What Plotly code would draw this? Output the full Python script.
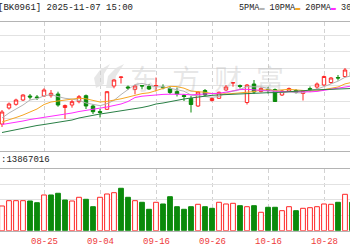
import plotly.graph_objects as go

# ---------------- data ----------------
lead_dates = ["08-13", "08-14"]
dates = ["08-15", "08-18", "08-19", "08-20", "08-21", "08-22", "08-25", "08-26", "08-27", "08-28", "08-29",
         "09-01", "09-02", "09-03", "09-04", "09-05", "09-08", "09-09", "09-10", "09-11", "09-12",
         "09-15", "09-16", "09-17", "09-18", "09-19", "09-22", "09-23", "09-24", "09-25", "09-26",
         "09-29", "09-30", "10-09", "10-10", "10-13", "10-14", "10-15", "10-16", "10-17",
         "10-20", "10-21", "10-22", "10-23", "10-24", "10-27", "10-28", "10-29", "10-30", "10-31", "11-03"]
tick_labels = ["08-13", "08-25", "09-04", "09-16", "09-26", "10-16", "10-28"]

opens = [1126, 1142, 1145.7, 1150, 1154, 1153, 1154, 1154.3, 1156, 1142.5, 1145, 1148.3, 1154.3, 1144, 1138.5,
         1140.7, 1164, 1172.5, 1163, 1160.7, 1164.5, 1163.5, 1164, 1163, 1161.5, 1158.5, 1154.5, 1151.5, 1144,
         1159.5, 1149.5, 1151.7, 1160, 1167, 1164.5, 1147.5, 1166, 1158.5, 1160.5, 1160.5, 1155, 1159, 1159.5,
         1156.5, 1161.5, 1163, 1165, 1167.5, 1172.5, 1173.5, 1178]
highs = [1140, 1147.5, 1151.3, 1155.7, 1156, 1155, 1161.7, 1160, 1158.3, 1145.5, 1150, 1155, 1155.5, 1146, 1141,
         1159, 1170.7, 1173.5, 1164.5, 1165, 1165, 1166, 1172.5, 1165.7, 1163.5, 1162.5, 1156, 1154, 1159, 1161,
         1153, 1158.5, 1165, 1167.5, 1165.5, 1166, 1170, 1163, 1163, 1161.5, 1160, 1162.5, 1161, 1160, 1163.5,
         1167.5, 1174.5, 1173, 1175, 1182, 1180]
lows = [1123, 1140.5, 1144.3, 1149, 1150.5, 1150, 1153, 1152.3, 1143.3, 1131, 1142.3, 1146.7, 1141, 1136, 1132.5,
        1140, 1161.7, 1166.5, 1160, 1155.7, 1160.7, 1160, 1158.5, 1160.7, 1156, 1153.5, 1149, 1137.5, 1143, 1153.5,
        1148.5, 1151, 1159, 1163.3, 1161.5, 1145.5, 1156, 1157.5, 1156.5, 1148.3, 1154, 1158.5, 1156.5, 1149.5,
        1158.5, 1161, 1164, 1166, 1169.5, 1172.5, 1172]
closes = [1138, 1146, 1150, 1155, 1153, 1152.3, 1160, 1156.7, 1145, 1144.5, 1148.3, 1153.3, 1144, 1138.3, 1137.5,
          1158.3, 1170, 1173, 1162, 1164, 1164, 1161, 1164.5, 1162.3, 1157.5, 1156, 1153.5, 1145.5, 1158, 1155,
          1151.5, 1157.7, 1163, 1167.3, 1163.5, 1165, 1158, 1161.5, 1159.5, 1148.5, 1159, 1161.5, 1157.5, 1159.5,
          1160.5, 1166, 1173.5, 1172, 1172, 1180, 1174]

ma5 = [1132, 1137, 1141, 1145, 1150, 1151.3, 1154.1, 1155.4, 1153.4, 1151.7, 1150.9, 1149.6, 1147, 1145.7, 1144.3,
       1146.3, 1149.6, 1155.4, 1160.2, 1165.5, 1166.6, 1164.8, 1163.1, 1163.2, 1161.9, 1160.3, 1158.8, 1155,
       1154.1, 1153.6, 1152.7, 1153.5, 1157, 1158.9, 1160.6, 1163.3, 1163.4, 1163.1, 1161.5, 1158.5, 1157.3, 1158,
       1157.2, 1157.2, 1159.6, 1161, 1163.4, 1166.3, 1168.8, 1172.7, 1174.3]
ma10 = [1128, 1130, 1132.5, 1135, 1138, 1141, 1145.5, 1148, 1149, 1150.1, 1151.1, 1151.8, 1151.2, 1149.5, 1148,
        1148.6, 1149.6, 1151.2, 1152.9, 1154.9, 1156.4, 1157.2, 1159.3, 1161.7, 1163.7, 1163.4, 1161.8, 1159,
        1158.6, 1157.7, 1156.5, 1156.1, 1156, 1156.5, 1157.1, 1158, 1158.4, 1160, 1160.2, 1159.5, 1160.3, 1160.7,
        1160.1, 1159.3, 1159, 1159.1, 1160.7, 1161.7, 1163, 1166.1, 1167.6]
ma20 = [1125.5, 1126.5, 1128, 1129, 1130.5, 1131.5, 1132.5, 1134, 1135, 1136, 1137, 1138.5, 1139.5, 1140.5, 1141.5,
        1143, 1144.5, 1146, 1148.5, 1152.5, 1153.8, 1154.5, 1155.2, 1155.6, 1155.8, 1156, 1155.7, 1155.1, 1155.8,
        1156.3, 1156.5, 1156.7, 1157.6, 1159.1, 1160.4, 1160.7, 1160.1, 1159.5, 1159.4, 1158.6, 1158.4, 1158.4,
        1158.1, 1157.9, 1158.1, 1158.6, 1159.6, 1160.9, 1161.6, 1162.8, 1164]
ma30 = [1117.5, 1119, 1120.5, 1122, 1123.5, 1124.5, 1125.5, 1126.5, 1127.5, 1128.5, 1130, 1132, 1133.5, 1135, 1136,
        1137, 1138, 1139, 1140, 1141, 1142.5, 1144, 1146, 1147, 1148.5, 1149.5, 1151, 1152, 1153, 1154.2, 1154.7,
        1155.1, 1155.5, 1155.9, 1156.3, 1156.7, 1156.6, 1156.8, 1157.3, 1157.4, 1157.7, 1158, 1158.5, 1159.2,
        1159.9, 1160.2, 1160.3, 1160.3, 1160.6, 1161.1, 1161.5]
ma_names = ["5PMA", "10PMA", "20PMA", "30PMA"]

volumes = [8010000, 9730000, 9730000, 9730000, 9630000, 9080000, 11580000, 11580000, 12130000, 9950000,
           9630000, 10830000, 10180000, 7780000, 10830000, 11900000, 12320000, 13750000, 10830000, 9730000,
           9210000, 6940000, 9210000, 8660000, 11020000, 7780000, 6940000, 7780000, 8560000, 7780000,
           7260000, 9210000, 8660000, 8880000, 8110000, 7780000, 8110000, 5970000, 7590000, 7590000,
           6490000, 7780000, 6490000, 7260000, 7460000, 7780000, 8660000, 8560000, 9210000, 11800000, 9210000]
vol_up = [1, 1, 1, 1, 0, 0, 1, 0, 0, 0, 1, 1, 0, 0, 1, 1, 1, 0, 0, 1, 0, 0, 1, 0, 0,
          0, 0, 0, 1, 0, 0, 1, 1, 1, 0, 1, 0, 1, 0, 0, 1, 1, 0, 1, 1, 1, 1, 1, 0, 1, 0]

title_text = "[BK0961] 2025-11-07 15:00"
vol_text = ":13867016"
watermark = "东\u2002方\u2002财\u2002富"

# ---------------- style ----------------
W, H = 350, 250
RED = "#ff2626"
GREEN = "#0b8a0b"
ma_colors = ["#b4b4b4", "#f5a623", "#ff2bff", "#2a7f46"]
GRID = "#e2e2e2"
VGRID = "#d2d2d2"
BORDER = "#b4b4b4"
MONO = "Liberation Mono"


def py(y):
    return 1 - y / H


def px(x):
    return x / W


all_dates = lead_dates + dates
x0 = len(lead_dates) - 2 / 7.0
xrange = [x0, x0 + W / 7.0]

fig = go.Figure()
fig.add_trace(go.Candlestick(
    x=dates, open=opens, high=highs, low=lows, close=closes,
    increasing=dict(line=dict(color=RED, width=1), fillcolor="white"),
    decreasing=dict(line=dict(color=GREEN, width=1), fillcolor=GREEN),
    whiskerwidth=0, showlegend=False, hoverinfo="skip", xaxis="x", yaxis="y"))
for name, vals, col in zip(ma_names, [ma5, ma10, ma20, ma30], ma_colors):
    fig.add_trace(go.Scatter(x=dates, y=vals, mode="lines", name=name,
                             line=dict(color=col, width=1), showlegend=False,
                             hoverinfo="skip", xaxis="x", yaxis="y"))
fig.add_trace(go.Bar(
    x=dates, y=volumes, width=0.68,
    marker=dict(color=["white" if u else GREEN for u in vol_up],
                line=dict(color=[RED if u else GREEN for u in vol_up], width=1)),
    showlegend=False, hoverinfo="skip", xaxis="x2", yaxis="y2"))

grid_vals = [1250 - (35.3 + 16.667 * k) for k in range(7)]

common_x = dict(type="category", categoryorder="array", categoryarray=all_dates,
                range=xrange, tickvals=tick_labels, showticklabels=False,
                showgrid=True, gridcolor=VGRID, griddash="4px,3px", gridwidth=1,
                showline=True, mirror=True, linecolor=BORDER, linewidth=1,
                zeroline=False, ticks="", fixedrange=True)

fig.update_layout(
    width=W, height=H, margin=dict(l=0, r=0, t=0, b=0),
    paper_bgcolor="white", plot_bgcolor="white", showlegend=False,
    xaxis=dict(common_x, domain=[0, 1], anchor="y", rangeslider=dict(visible=False)),
    yaxis=dict(domain=[py(151), py(22)], range=[1250 - 151, 1250 - 22], tickvals=grid_vals,
               showticklabels=False, showgrid=True, gridcolor=GRID, gridwidth=1,
               zeroline=False, showline=False, ticks=""),
    xaxis2=dict(common_x, domain=[0, 1], anchor="y2"),
    yaxis2=dict(domain=[py(230.7), py(169)], range=[0, 20e6], tickvals=[5e6, 10e6, 15e6],
                showticklabels=False, showgrid=True, gridcolor=GRID, gridwidth=1,
                zeroline=False, showline=False, ticks=""),
    bargap=0.3,
)

ann = []
ann.append(dict(text=title_text, x=px(-4), y=py(8), xref="paper", yref="paper",
                xanchor="left", yanchor="middle", showarrow=False,
                font=dict(family=MONO, size=9, color="#222")))
leg = " ".join(f"{n}<span style='color:{c}'>▬</span>" for n, c in zip(ma_names, ma_colors))
ann.append(dict(text=leg, x=px(237), y=py(8), xref="paper", yref="paper",
                xanchor="left", yanchor="middle", showarrow=False,
                font=dict(family=MONO, size=8.5, color="#222")))
ann.append(dict(text=vol_text, x=px(-1.5), y=py(160), xref="paper", yref="paper",
                xanchor="left", yanchor="middle", showarrow=False,
                font=dict(family=MONO, size=9, color="#222")))
for lab in tick_labels:
    ann.append(dict(text=lab, x=all_dates.index(lab), y=py(241.5), xref="x2", yref="paper",
                    xanchor="center", yanchor="middle", showarrow=False,
                    font=dict(family=MONO, size=9, color="#ee3a3a")))
ann.append(dict(text=watermark, x=px(207), y=py(78), xref="paper", yref="paper",
                xanchor="center", yanchor="middle", showarrow=False,
                font=dict(family="Noto Sans CJK SC", size=28, color="rgba(170,170,170,0.28)")))
fig.update_layout(annotations=ann)


# faint logo of the watermark
def pth(points):
    return "M " + " L ".join(f"{px(a):.4f},{py(b):.4f}" for a, b in points) + " Z"


fig.add_shape(type="path", xref="paper", yref="paper", layer="below",
              path=pth([(96, 88), (94, 78), (100, 70), (110, 64), (104, 74), (104, 84)]),
              fillcolor="rgba(170,170,170,0.28)", line=dict(width=0))
fig.add_shape(type="path", xref="paper", yref="paper", layer="below",
              path=pth([(106, 88), (108, 76), (116, 68), (124, 64), (116, 76), (114, 88)]),
              fillcolor="rgba(170,170,170,0.28)", line=dict(width=0))

fig.write_html("out.html")
